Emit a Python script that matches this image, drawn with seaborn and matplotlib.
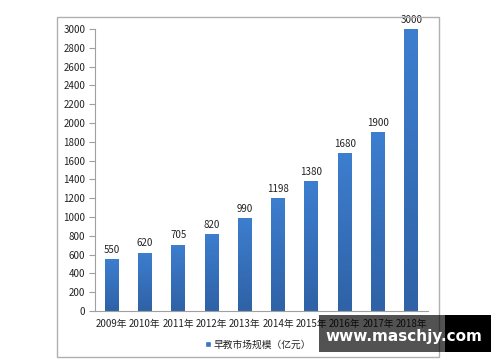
import matplotlib
matplotlib.use("Agg")
import matplotlib.pyplot as plt
import seaborn as sns
import pandas as pd
import numpy as np
from matplotlib.patches import Rectangle
from matplotlib.colors import LinearSegmentedColormap

years = ["2009年", "2010年", "2011年", "2012年", "2013年", "2014年", "2015年", "2016年", "2017年", "2018年"]
values = [550, 620, 705, 820, 990, 1198, 1380, 1680, 1900, 3000]
yticks = list(range(0, 3001, 200))
legend_label = "早教市场规模（亿元）"
watermark = "www.maschjy.com"

sns.set_style("white")
plt.rcParams["font.family"] = ["Noto Sans CJK SC", "DejaVu Sans"]

df = pd.DataFrame({"year": years, "value": values})

fig = plt.figure(figsize=(5, 3.62), dpi=100)
ax = fig.add_axes([95/500, 1-311/362, (428-95)/500, (311-29)/362])

bar_color = "#3874c0"
sns.barplot(data=df, x="year", y="value", color=bar_color, width=0.42,
            saturation=1, ax=ax, label=legend_label)

# vertical gradient on each bar (lighter top, darker bottom)
cmap = LinearSegmentedColormap.from_list("g", ["#2f62a6", "#3d7ecf"])
grad = np.linspace(0, 1, 256).reshape(-1, 1)
for p in ax.patches:
    x0, y0 = p.get_x(), p.get_y()
    w, h = p.get_width(), p.get_height()
    im = ax.imshow(grad, cmap=cmap, aspect="auto", origin="lower",
                   extent=[x0, x0 + w, y0, y0 + h], zorder=p.get_zorder() + 0.1)
    im.set_clip_path(p)

for i, v in enumerate(values):
    ax.text(i, v + 45, str(v), ha="center", va="bottom", fontsize=7,
            color="#222222", clip_on=False)

ax.set_xlim(-0.5, len(years) - 0.5)
ax.set_ylim(0, 3000)
ax.set_yticks(yticks)
ax.set_yticklabels([str(t) for t in yticks], fontsize=7, color="#222222")
ax.set_xlabel("")
ax.set_ylabel("")
ax.tick_params(axis="x", which="major", length=0, labelsize=7, labelcolor="#222222", pad=6)
ax.set_xticks([i - 0.5 for i in range(len(years) + 1)], minor=True)
ax.tick_params(axis="x", which="minor", length=4, color="#a0a0a0", width=0.8)
ax.tick_params(axis="y", which="major", length=4, color="#a0a0a0", width=0.8, pad=3, left=True)
for s in ["top", "right"]:
    ax.spines[s].set_visible(False)
for s in ["left", "bottom"]:
    ax.spines[s].set_color("#a0a0a0")
    ax.spines[s].set_linewidth(0.8)

leg = ax.legend(loc="upper center", bbox_to_anchor=(0.49, -0.07), frameon=False,
                fontsize=7, handlelength=0.6, handleheight=0.6, handletextpad=0.3)
for t in leg.get_texts():
    t.set_color("#222222")
for h in leg.legend_handles:
    h.set_facecolor("#3874c0")

# outer frame
fig.patches.append(Rectangle((57/500, 1-357/362), (439-57)/500, (357-17)/362,
                             transform=fig.transFigure, fill=False,
                             edgecolor="#b0b0b0", linewidth=1.0))

# watermark box
fig.patches.append(Rectangle((319/500, 1-352/362), (445-319)/500, (352-315)/362,
                             transform=fig.transFigure, facecolor="#000000", alpha=0.68,
                             edgecolor="none", zorder=5))
fig.patches.append(Rectangle((445/500, 1-352/362), (491-445)/500, (352-315)/362,
                             transform=fig.transFigure, facecolor="#000000",
                             edgecolor="none", zorder=5))
fig.text(404/500, 1-336/362, watermark, ha="center", va="center", fontsize=11,
         fontweight="bold", color="white", family="DejaVu Sans", zorder=6)

fig.savefig("out.png", dpi=100, facecolor="white")
